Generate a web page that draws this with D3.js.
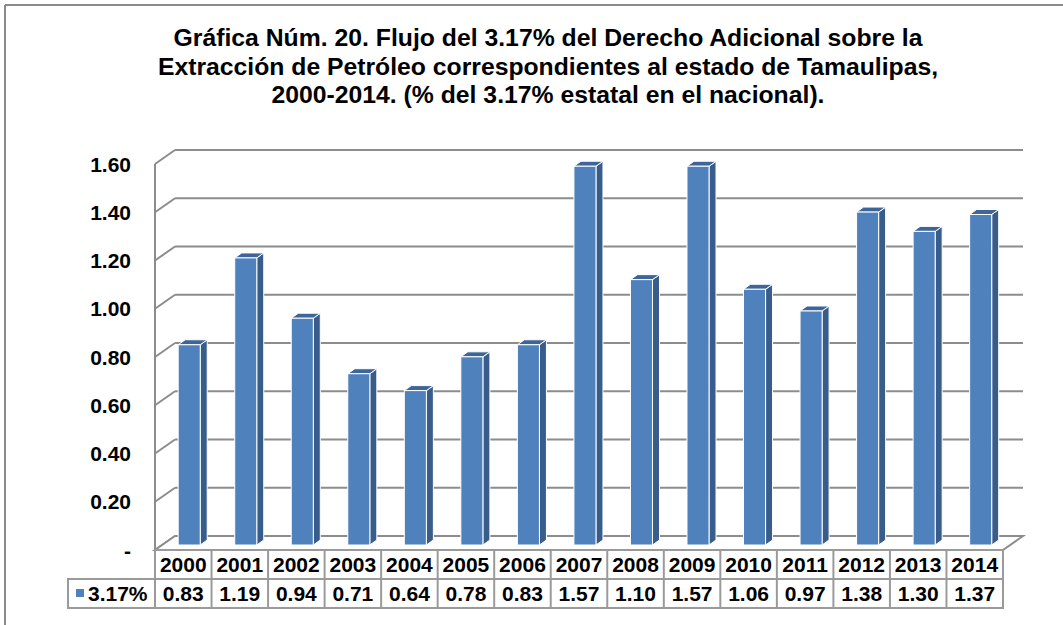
<!DOCTYPE html>
<html>
<head>
<meta charset="utf-8">
<script src="https://cdn.jsdelivr.net/npm/d3@7"></script>
<style>
  body { margin: 0; background: #fff; }
  text { font-family: "Liberation Sans", Arial, sans-serif; font-weight: bold; fill: #000; }
</style>
</head>
<body>
<svg id="chart" width="1063" height="625"></svg>
<script>
var years = ["2000","2001","2002","2003","2004","2005","2006","2007","2008","2009","2010","2011","2012","2013","2014"];
var values = [0.83,1.19,0.94,0.71,0.64,0.78,0.83,1.57,1.10,1.57,1.06,0.97,1.38,1.30,1.37];
var seriesName = "3.17%";
var ticks = [0,0.2,0.4,0.6,0.8,1.0,1.2,1.4,1.6];
var titleLines = [
  "Gráfica Núm. 20. Flujo del 3.17% del Derecho Adicional sobre la",
  "Extracción de Petróleo correspondientes al estado de Tamaulipas,",
  "2000-2014. (% del 3.17% estatal en el nacional)."
];
var titleWidths = [749, 780, 553];

var svg = d3.select("#chart"),
    left = 155, right = 1003,
    floorY = 550,          // front edge of floor
    depthX = 20, depthY = -14,
    gridColor = "#8c8c8c";

// outer frame (top + left only visible)
svg.append("line").attr("x1", 5).attr("x2", 1063).attr("y1", 5).attr("y2", 5)
   .attr("stroke", "#8a8a8a").attr("stroke-width", 2);
svg.append("line").attr("x1", 5).attr("x2", 5).attr("y1", 5).attr("y2", 625)
   .attr("stroke", "#8a8a8a").attr("stroke-width", 2);

// title
svg.append("g").selectAll("text")
  .data(titleLines)
  .enter().append("text")
  .attr("x", 548)
  .attr("y", function(d, i) { return 46 + i * 28.5; })
  .attr("text-anchor", "middle")
  .attr("textLength", function(d, i) { return titleWidths[i]; })
  .attr("lengthAdjust", "spacingAndGlyphs")
  .style("font-size", "23px")
  .text(function(d) { return d; });

var x = d3.scaleBand().domain(years).range([left, right]);
var h = d3.scaleLinear().domain([0, 1.6]).range([0, 386]);

// back wall gridlines + left wall diagonals
var grid = svg.append("g");
ticks.forEach(function(t) {
  var yf = floorY - h(t), yb = yf + depthY;
  grid.append("line")
    .attr("x1", left + depthX).attr("x2", right + depthX)
    .attr("y1", yb).attr("y2", yb)
    .attr("stroke", gridColor).attr("stroke-width", 2);
  grid.append("line")
    .attr("x1", left).attr("x2", left + depthX)
    .attr("y1", yf).attr("y2", yb)
    .attr("stroke", gridColor).attr("stroke-width", 2);
});
// left wall front edge
grid.append("line")
  .attr("x1", left).attr("x2", left)
  .attr("y1", floorY - h(1.6)).attr("y2", floorY)
  .attr("stroke", gridColor).attr("stroke-width", 2);
// floor
grid.append("path")
  .attr("d", "M" + left + "," + floorY + "L" + right + "," + floorY +
             "L" + (right + depthX) + "," + (floorY + depthY) +
             "L" + (left + depthX) + "," + (floorY + depthY) + "Z")
  .attr("fill", "#fff").attr("stroke", gridColor).attr("stroke-width", 2);

// y labels
svg.append("g").selectAll("text")
  .data(ticks)
  .enter().append("text")
  .attr("x", 131)
  .attr("y", function(d) { return floorY - h(d); })
  .attr("dy", "0.36em")
  .attr("text-anchor", "end")
  .style("font-size", "21px")
  .text(function(d) { return d === 0 ? "-" : d.toFixed(2); });

// 3D bars
var bw = x.bandwidth() * 0.39, bdx = 7, bdy = -5, base = 545;
var bars = svg.append("g").selectAll("g")
  .data(values)
  .enter().append("g");

bars.append("path") // side
  .attr("fill", "#385d8a")
  .attr("stroke", "#fff").attr("stroke-width", 1)
  .attr("d", function(d, i) {
    var x0 = x(years[i]) + x.bandwidth() * 0.41 + bw, yt = base - h(d);
    return "M" + x0 + "," + base + "L" + x0 + "," + yt + "L" + (x0 + bdx) + "," + (yt + bdy) +
           "L" + (x0 + bdx) + "," + (base + bdy) + "Z";
  });
bars.append("path") // top
  .attr("fill", "#3d659a")
  .attr("stroke", "#fff").attr("stroke-width", 1)
  .attr("d", function(d, i) {
    var x0 = x(years[i]) + x.bandwidth() * 0.41, yt = base - h(d);
    return "M" + x0 + "," + yt + "L" + (x0 + bw) + "," + yt + "L" + (x0 + bw + bdx) + "," + (yt + bdy) +
           "L" + (x0 + bdx) + "," + (yt + bdy) + "Z";
  });
bars.append("rect") // front
  .attr("fill", "#4f81bd")
  .attr("stroke", "#fff").attr("stroke-width", 1)
  .attr("x", function(d, i) { return x(years[i]) + x.bandwidth() * 0.41; })
  .attr("y", function(d) { return base - h(d); })
  .attr("width", bw)
  .attr("height", function(d) { return h(d); });

// data table
var rowH = 29, row1 = floorY, row2 = floorY + rowH, legendLeft = 68;
var table = svg.append("g");
var tableColor = "#9a9a9a";

table.append("rect").attr("x", left).attr("y", row1).attr("width", right - left).attr("height", rowH)
  .attr("fill", "none").attr("stroke", tableColor).attr("stroke-width", 2);
table.append("rect").attr("x", legendLeft).attr("y", row2).attr("width", right - legendLeft).attr("height", rowH)
  .attr("fill", "none").attr("stroke", tableColor).attr("stroke-width", 2);
table.append("line").attr("x1", left).attr("x2", left).attr("y1", row1).attr("y2", row2 + rowH)
  .attr("stroke", tableColor).attr("stroke-width", 2);

years.forEach(function(yr, i) {
  if (i > 0) {
    table.append("line").attr("x1", x(yr)).attr("x2", x(yr)).attr("y1", row1).attr("y2", row2 + rowH)
      .attr("stroke", tableColor).attr("stroke-width", 2);
  }
});

table.selectAll("text.yr")
  .data(years)
  .enter().append("text")
  .attr("class", "yr")
  .attr("x", function(d) { return x(d) + x.bandwidth() / 2; })
  .attr("y", row1 + rowH / 2)
  .attr("dy", "0.36em")
  .attr("text-anchor", "middle")
  .style("font-size", "21px")
  .text(function(d) { return d; });

table.selectAll("text.val")
  .data(values)
  .enter().append("text")
  .attr("class", "val")
  .attr("x", function(d, i) { return x(years[i]) + x.bandwidth() / 2; })
  .attr("y", row2 + rowH / 2)
  .attr("dy", "0.36em")
  .attr("text-anchor", "middle")
  .style("font-size", "21px")
  .text(function(d) { return d.toFixed(2); });

// legend key inside table
table.append("rect").attr("x", 76).attr("y", row2 + 10).attr("width", 8).attr("height", 8)
  .attr("fill", "#4f81bd");
table.append("text")
  .attr("x", 88).attr("y", row2 + rowH / 2).attr("dy", "0.36em")
  .style("font-size", "21px")
  .text(seriesName);
</script>
</body>
</html>
